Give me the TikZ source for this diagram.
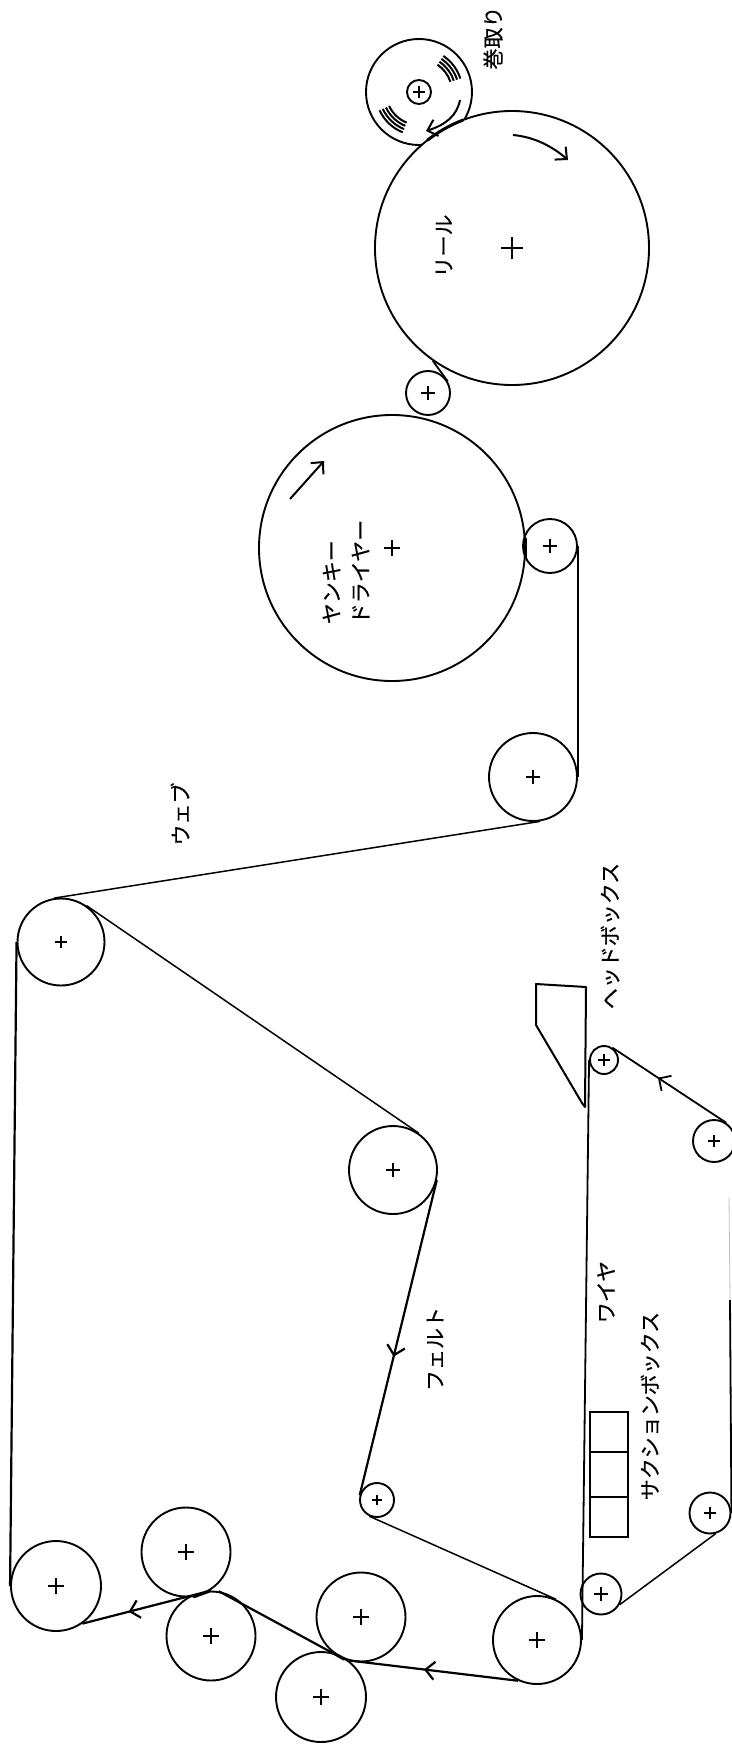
\documentclass[tikz,border=0pt]{standalone}
\usepackage{fontspec}
\newfontfamily\jpfont[FakeBold=0.4]{Noto Sans CJK JP}
\usetikzlibrary{arrows.meta, positioning, decorations.markings, backgrounds}

\begin{document}
\begin{tikzpicture}[
  x=1pt, y=-1pt, on grid,
  roll/.style  = {circle, draw, fill=white, line width=1.9pt, inner sep=0pt, minimum size=#1},
  cross/.style = {path picture={
                    \draw[line width=1.8pt]
                      ([xshift=-#1]path picture bounding box.center) -- ([xshift=#1]path picture bounding box.center)
                      ([yshift=-#1]path picture bounding box.center) -- ([yshift=#1]path picture bounding box.center);}},
  sheet/.style = {draw, line width=1.5pt},
  belt/.style  = {draw, line width=2.2pt},
  feed/.style  = {postaction={decorate}, decoration={markings,
                    mark=at position #1 with {\arrow{Straight Barb[length=9pt,width=18pt]}}}},
  spin/.style  = {-{Straight Barb[length=9pt,width=17pt]}, draw, line width=2pt},
  wrap/.style  = {draw, line width=1.8pt},
  nip/.style   = {draw, line width=3pt, line cap=round},
  cell/.style  = {draw, line width=2pt, minimum width=38pt, outer sep=0pt, inner sep=0pt},
  lbl/.style   = {font=\jpfont\fontsize{21}{29}\selectfont, rotate=90, align=left, inner sep=0pt},
]
\useasboundingbox (0,0) rectangle (731,1747);

% ---- reel and dryer section
\node[roll=274pt, cross=11pt] (reel) at (512,248) {};
\begin{scope}[on background layer]
  \fill[white] (0,0) rectangle (731,1747);
  \node[roll=106pt, above left=156pt and 93pt of reel] (winder) {};
\end{scope}
\node[roll=24pt, cross=6pt] (core) at (winder) {};
\node[roll=44pt, cross=7pt, below left=145pt and 84pt of reel] (guide) {};
\node[roll=266pt, cross=8pt, below left=155pt and 36pt of guide] (yankee) {};
\node[roll=54pt, cross=7pt, above right=2pt and 158pt of yankee] (pressroll) {};
\node[roll=88pt, cross=7pt, below left=231pt and 17pt of pressroll] (dryroll) {};

% ---- felt run
\node[roll=87pt, cross=6pt, below left=165pt and 472pt of dryroll] (turnroll) {};
\node[roll=88pt, cross=7pt, below right=228pt and 332pt of turnroll] (feltroll) {};
\node[roll=34pt, cross=5pt, below left=330pt and 16pt of feltroll] (feltsmall) {};
\node[roll=88pt, cross=8pt, below right=140pt and 160pt of feltsmall] (couch) {};
\node[roll=89pt, cross=8pt, above left=23pt and 176pt of couch] (nipupper) {};
\node[roll=90pt, cross=8pt, below left=80pt and 40pt of nipupper] (niplower) {};
\node[roll=89pt, cross=8pt, below left=19pt and 150pt of nipupper] (pressa) {};
\node[roll=89pt, cross=8pt, above left=84pt and 25pt of pressa] (pressb) {};
\node[roll=90pt, cross=8pt, below left=34pt and 130pt of pressb] (pressc) {};

% ---- wire run
\node[roll=28pt, cross=6pt, above right=580pt and 67pt of couch] (breast) {};
\node[roll=42pt, cross=6pt, below right=81pt and 110pt of breast] (wiretop) {};
\node[roll=41pt, cross=6pt, below left=372pt and 4pt of wiretop] (wireback) {};
\node[roll=41pt, cross=7pt, below left=81pt and 109pt of wireback] (wirelow) {};

\coordinate (fadestart) at (729,1197);
\coordinate (fademid) at (730,1300);

% ---- web
\draw[wrap] (reel.235) -- (guide.30);
\draw[belt] (pressroll.east) -- (dryroll.east);
\draw[sheet] (dryroll.279) -- (turnroll.99);

% ---- felt
\draw[belt] (turnroll.west) -- (pressc.west);
\draw[sheet] (turnroll.55) -- (feltroll.55);
\draw[belt, feed=0.56] (feltroll.347) -- (feltsmall.165);
\draw[sheet] (feltsmall.245) -- (couch.65);
\draw[belt, feed=0.55] (couch.245) -- (nipupper.252);
\draw[belt] (nipupper.235) -- (pressa.80);
\draw[belt, feed=0.64] (pressa.90) -- (pressc.305);

% ---- where two rolls press together
\draw[nip] (yankee.4) -- (yankee.-4);
\draw[nip] (nipupper.248) -- (nipupper.232);
\draw[nip] (pressb.300) -- (pressb.280);
\draw[nip] (reel.center) ++(128:137pt) arc[start angle=128, end angle=111, radius=137pt];

% ---- wire
\draw[wrap] (breast.west) -- (couch.east);
\draw[wrap, feed=0.6] (wiretop.56) -- (breast.56);
\draw[wrap] (wireback.east) -- (fademid);
\draw[draw=black!25, line width=0.8pt] (fademid) -- (fadestart);
\draw[sheet] (wirelow.330) -- (wireback.285);

% ---- head box and suction boxes
\draw[line width=2pt, line join=round] (536,984) -- (586,987) -- (585,1107) -- (582,1103) -- (536,1025) -- cycle;
\node[cell, minimum height=40pt] (suctiona) at (609,1432) {};
\node[cell, minimum height=45pt, below=42.5pt of suctiona] (suctionb) {};
\node[cell, minimum height=40pt, below=42.5pt of suctionb] (suctionc) {};

% ---- turning directions
\coordinate (reelfrom) at (513,135);
\coordinate (reelto) at (568,160);
\coordinate (yankeefrom) at (290,499);
\coordinate (yankeeto) at (324,461);
\coordinate (winderfrom) at (460,100);
\coordinate (winderto) at (426,131);
\draw[spin] (reelfrom) .. controls (535,137) and (553,147) .. (reelto);
\draw[spin] (yankeefrom) -- (yankeeto);
\draw[spin] (winderfrom) .. controls (457,116) and (445,125) .. (winderto);

% ---- paper rolled up on the winder
\foreach \r in {33,36.5,40,43.5} {
  \draw[line width=2pt] (winder.center) ++(18:\r pt) arc[start angle=18, end angle=56, radius=\r pt];
  \draw[line width=2pt] (winder.center) ++(205:\r pt) arc[start angle=205, end angle=248, radius=\r pt];
}

% ---- names
\node[lbl] (winderlbl) at (493,38) {巻取り};
\node[lbl] (reellbl) at (444,246) {リール};
\node[lbl] (yankeelbl) at (346,572) {ヤンキー\\ドライヤー};
\node[lbl] (weblbl) at (180,814) {ウェブ};
\node[lbl] (headlbl) at (610,936) {ヘッドボックス};
\node[lbl] (wirelbl) at (606,1292) {ワイヤ};
\node[lbl] (feltlbl) at (435,1349) {フェルト};
\node[lbl] (suctionlbl) at (650,1406) {サクションボックス};

\end{tikzpicture}
\end{document}
